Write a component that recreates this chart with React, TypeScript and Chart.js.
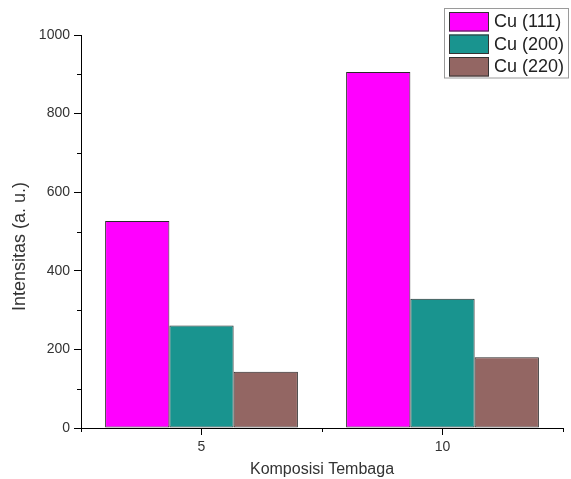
import React, { useEffect, useRef } from "react";
import { Chart, registerables } from "chart.js";

Chart.register(...registerables);

const categories = ["5", "10"];
const seriesNames = ["Cu (111)", "Cu (200)", "Cu (220)"];
const cu111 = [527, 906];
const cu200 = [261, 329];
const cu220 = [143, 180];
const seriesColors = ["#FF00FF", "#19948F", "#936663"];
const yTicks = [0, 200, 400, 600, 800, 1000];
const xTitle = "Komposisi Tembaga";
const yTitle = "Intensitas (a. u.)";

const FONT = "'Liberation Sans', Arial, Helvetica, sans-serif";

const minorTicksPlugin = {
  id: "minorTicks",
  afterDraw(chart: any) {
    const ctx = chart.ctx;
    const y = chart.scales.y;
    const x = chart.scales.x;
    const area = chart.chartArea;
    ctx.save();
    ctx.strokeStyle = "#000";
    ctx.lineWidth = 1;
    const ticks = y.ticks;
    for (let i = 0; i < ticks.length - 1; i++) {
      const v = (ticks[i].value + ticks[i + 1].value) / 2;
      const py = Math.round(y.getPixelForValue(v)) + 0.5;
      ctx.beginPath();
      ctx.moveTo(area.left - 4, py);
      ctx.lineTo(area.left, py);
      ctx.stroke();
    }
    const n = chart.data.labels.length;
    for (let i = 0; i <= n; i++) {
      const px = Math.round(x.getPixelForValue(i - 0.5)) + 0.5;
      ctx.beginPath();
      ctx.moveTo(px, area.bottom);
      ctx.lineTo(px, area.bottom + 4);
      ctx.stroke();
    }
    ctx.fillStyle = "#333";
    ctx.font = `18px ${FONT}`;
    ctx.textAlign = "center";
    ctx.textBaseline = "middle";
    ctx.translate(20, (area.top + area.bottom) / 2 + 15);
    ctx.rotate(-Math.PI / 2);
    ctx.fillText(yTitle, 0, 0);
    ctx.restore();
  },
};

const legendPlugin = {
  id: "boxLegend",
  afterDraw(chart: any) {
    const ctx = chart.ctx;
    const ds = chart.data.datasets;
    ctx.save();
    const bx = 444.5, by = 8.5, bw = 124, rowH = 22.5;
    const bh = ds.length * rowH + 2;
    ctx.strokeStyle = "#9a9a9a";
    ctx.lineWidth = 1;
    ctx.strokeRect(bx, by, bw, bh);
    ctx.font = `18px ${FONT}`;
    ctx.textBaseline = "middle";
    ctx.textAlign = "left";
    ds.forEach((d: any, i: number) => {
      const sy = 12 + i * rowH;
      ctx.fillStyle = d.backgroundColor;
      ctx.fillRect(449, sy, 40, 19.5);
      ctx.strokeStyle = "#333";
      ctx.strokeRect(449.5, sy + 0.5, 39, 18.5);
      ctx.fillStyle = "#222";
      ctx.fillText(d.label, 494, sy + 10.5);
    });
    ctx.restore();
  },
};

export default function App() {
  const ref = useRef<HTMLCanvasElement | null>(null);
  useEffect(() => {
    document.body.style.margin = "0";
    if (!ref.current) return;
    const values = [cu111, cu200, cu220];
    const chart = new Chart(ref.current, {
      type: "bar",
      data: {
        labels: categories,
        datasets: seriesNames.map((name, i) => ({
          label: name,
          data: values[i],
          backgroundColor: seriesColors[i],
          borderColor: "#2a2a2a",
          borderWidth: 1,
          borderSkipped: false,
          categoryPercentage: 0.8,
          barPercentage: 1.0,
        })),
      },
      options: {
        responsive: false,
        animation: false,
        devicePixelRatio: 1,
        layout: { padding: { top: 35, right: 8, left: 0, bottom: 0 } },
        plugins: {
          legend: { display: false },
          tooltip: { enabled: false },
          title: { display: false },
        },
        scales: {
          x: {
            type: "category",
            offset: true,
            grid: {
              display: true,
              drawOnChartArea: false,
              drawTicks: true,
              tickLength: 7,
              tickColor: "#000",
              offset: false,
            },
            border: { display: true, color: "#000", width: 1 },
            ticks: {
              color: "#333",
              font: { family: FONT, size: 14 },
              padding: 4,
              maxRotation: 0,
            },
            title: {
              display: true,
              text: xTitle,
              color: "#333",
              font: { family: FONT, size: 16 },
              padding: { top: 0, bottom: 0 },
            },
            afterFit(scale: any) {
              scale.height = 51;
            },
          },
          y: {
            type: "linear",
            min: 0,
            max: 1000,
            afterBuildTicks(scale: any) {
              scale.ticks = yTicks.map((v) => ({ value: v }));
            },
            grid: {
              display: true,
              drawOnChartArea: false,
              drawTicks: true,
              tickLength: 7,
              tickColor: "#000",
            },
            border: { display: true, color: "#000", width: 1 },
            ticks: {
              color: "#333",
              font: { family: FONT, size: 14 },
              padding: 4,
              callback: (v: any) => String(v),
            },
            afterFit(scale: any) {
              scale.width = 81;
            },
          },
        },
      },
      plugins: [minorTicksPlugin, legendPlugin],
    });
    return () => chart.destroy();
  }, []);
  return (
    <div style={{ width: 571, height: 479 }}>
      <canvas ref={ref} width={571} height={479} />
    </div>
  );
}
